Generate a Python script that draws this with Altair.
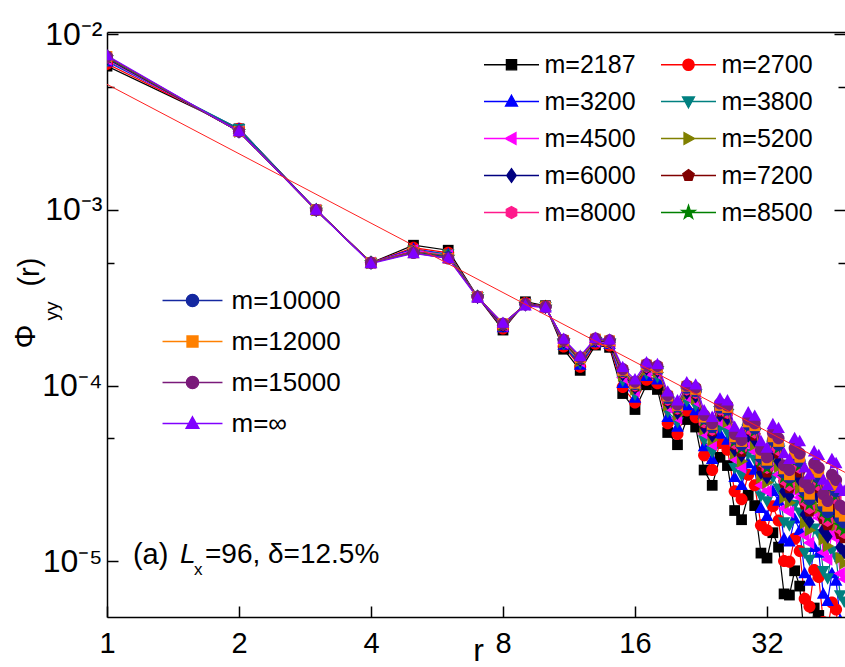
import altair as alt
import pandas as pd

# ---------------- data ----------------
r_values = list(range(1, 49))

phi_2187 = [6.6e-3, 2.9e-3, 1.0e-3, 5.0e-4, 6.3e-4, 5.9e-4, 3.2e-4, 2.07e-4, 3.0e-4, 2.85e-4, 1.61e-4, 1.22e-4, 1.70e-4, 1.65e-4, 9.0e-5, 7.3e-5, 1.01e-4, 9.5e-5, 5.4e-5, 4.6e-5, 6.4e-5, 5.8e-5, 3.3e-5, 2.7e-5, 3.9e-5, 3.5e-5, 1.94e-5, 1.72e-5, 2.37e-5, 2.07e-5, 1.11e-5, 1.04e-5, 1.45e-5, 1.2e-5, 6.5e-6, 6.4e-6, 8.8e-6, 7.2e-6, 3.5e-6, 3.2e-6, 5.4e-6, 4.9e-6, 2.5e-6, 2.2e-6, 3.2e-6, 2.9e-6, 1.5e-6, 1.3e-6]
phi_2700 = [6.8e-3, 2.9e-3, 1.0e-3, 5.0e-4, 6.1e-4, 5.7e-4, 3.2e-4, 2.11e-4, 2.95e-4, 2.83e-4, 1.67e-4, 1.28e-4, 1.73e-4, 1.69e-4, 9.8e-5, 8.0e-5, 1.08e-4, 1.03e-4, 6.1e-5, 5.3e-5, 7.2e-5, 6.6e-5, 4.0e-5, 3.3e-5, 4.7e-5, 4.3e-5, 2.5e-5, 2.25e-5, 3.1e-5, 2.7e-5, 1.6e-5, 1.5e-5, 2.05e-5, 1.7e-5, 1.0e-5, 9.9e-6, 1.34e-5, 1.14e-5, 6.1e-6, 5.5e-6, 8.9e-6, 8.1e-6, 4.5e-6, 4.1e-6, 5.8e-6, 5.3e-6, 3.0e-6, 2.7e-6]
phi_3200 = [7.0e-3, 2.9e-3, 1.0e-3, 5.0e-4, 6.0e-4, 5.6e-4, 3.2e-4, 2.14e-4, 2.93e-4, 2.82e-4, 1.70e-4, 1.31e-4, 1.76e-4, 1.72e-4, 1.03e-4, 8.5e-5, 1.13e-4, 1.08e-4, 6.6e-5, 5.8e-5, 7.7e-5, 7.2e-5, 4.5e-5, 3.8e-5, 5.3e-5, 4.9e-5, 3.0e-5, 2.7e-5, 3.6e-5, 3.3e-5, 2.0e-5, 1.8e-5, 2.5e-5, 2.2e-5, 1.34e-5, 1.29e-5, 1.74e-5, 1.5e-5, 8.5e-6, 7.7e-6, 1.2e-5, 1.11e-5, 6.5e-6, 5.9e-6, 8.5e-6, 7.7e-6, 4.6e-6, 4.1e-6]
phi_3800 = [7.1e-3, 2.9e-3, 1.0e-3, 5.0e-4, 5.9e-4, 5.6e-4, 3.2e-4, 2.17e-4, 2.9e-4, 2.81e-4, 1.73e-4, 1.34e-4, 1.78e-4, 1.74e-4, 1.07e-4, 8.9e-5, 1.17e-4, 1.12e-4, 7.1e-5, 6.2e-5, 8.2e-5, 7.7e-5, 4.9e-5, 4.2e-5, 5.8e-5, 5.4e-5, 3.4e-5, 3.1e-5, 4.1e-5, 3.8e-5, 2.35e-5, 2.2e-5, 3.0e-5, 2.6e-5, 1.67e-5, 1.6e-5, 2.1e-5, 1.9e-5, 1.12e-5, 1.02e-5, 1.54e-5, 1.43e-5, 8.8e-6, 8.0e-6, 1.14e-5, 1.05e-5, 6.4e-6, 5.9e-6]
phi_4500 = [7.2e-3, 2.8e-3, 1.0e-3, 5.0e-4, 5.9e-4, 5.5e-4, 3.2e-4, 2.19e-4, 2.9e-4, 2.8e-4, 1.75e-4, 1.37e-4, 1.79e-4, 1.75e-4, 1.11e-4, 9.3e-5, 1.20e-4, 1.16e-4, 7.5e-5, 6.5e-5, 8.6e-5, 8.1e-5, 5.3e-5, 4.6e-5, 6.2e-5, 5.9e-5, 3.8e-5, 3.4e-5, 4.6e-5, 4.2e-5, 2.7e-5, 2.5e-5, 3.45e-5, 3.1e-5, 2.0e-5, 1.9e-5, 2.5e-5, 2.3e-5, 1.4e-5, 1.27e-5, 1.9e-5, 1.76e-5, 1.12e-5, 1.02e-5, 1.45e-5, 1.35e-5, 8.5e-6, 7.9e-6]
phi_5200 = [7.3e-3, 2.8e-3, 1.0e-3, 5.0e-4, 5.8e-4, 5.5e-4, 3.2e-4, 2.2e-4, 2.9e-4, 2.8e-4, 1.76e-4, 1.38e-4, 1.81e-4, 1.76e-4, 1.14e-4, 9.5e-5, 1.23e-4, 1.19e-4, 7.7e-5, 6.8e-5, 8.9e-5, 8.4e-5, 5.6e-5, 4.9e-5, 6.6e-5, 6.2e-5, 4.1e-5, 3.7e-5, 5.0e-5, 4.6e-5, 3.0e-5, 2.8e-5, 3.8e-5, 3.45e-5, 2.3e-5, 2.15e-5, 2.9e-5, 2.6e-5, 1.65e-5, 1.5e-5, 2.2e-5, 2.0e-5, 1.33e-5, 1.22e-5, 1.73e-5, 1.6e-5, 1.04e-5, 9.7e-6]
phi_6000 = [7.3e-3, 2.8e-3, 1.0e-3, 5.0e-4, 5.8e-4, 5.4e-4, 3.2e-4, 2.2e-4, 2.9e-4, 2.8e-4, 1.78e-4, 1.40e-4, 1.81e-4, 1.77e-4, 1.16e-4, 9.7e-5, 1.25e-4, 1.21e-4, 8.0e-5, 7.0e-5, 9.1e-5, 8.7e-5, 5.8e-5, 5.2e-5, 6.8e-5, 6.5e-5, 4.3e-5, 4.0e-5, 5.2e-5, 4.9e-5, 3.2e-5, 3.0e-5, 4.1e-5, 3.7e-5, 2.5e-5, 2.35e-5, 3.1e-5, 2.9e-5, 1.84e-5, 1.68e-5, 2.4e-5, 2.3e-5, 1.5e-5, 1.38e-5, 1.95e-5, 1.82e-5, 1.2e-5, 1.13e-5]
phi_7200 = [7.4e-3, 2.8e-3, 1.0e-3, 5.0e-4, 5.8e-4, 5.4e-4, 3.2e-4, 2.2e-4, 2.9e-4, 2.8e-4, 1.79e-4, 1.41e-4, 1.82e-4, 1.78e-4, 1.18e-4, 9.9e-5, 1.27e-4, 1.23e-4, 8.2e-5, 7.3e-5, 9.4e-5, 9.0e-5, 6.1e-5, 5.5e-5, 7.1e-5, 6.9e-5, 4.6e-5, 4.2e-5, 5.6e-5, 5.2e-5, 3.5e-5, 3.2e-5, 4.5e-5, 4.1e-5, 2.8e-5, 2.6e-5, 3.5e-5, 3.2e-5, 2.1e-5, 1.92e-5, 2.7e-5, 2.6e-5, 1.74e-5, 1.6e-5, 2.3e-5, 2.1e-5, 1.43e-5, 1.35e-5]
phi_8000 = [7.4e-3, 2.8e-3, 1.0e-3, 5.0e-4, 5.8e-4, 5.4e-4, 3.2e-4, 2.23e-4, 2.9e-4, 2.8e-4, 1.80e-4, 1.42e-4, 1.83e-4, 1.79e-4, 1.19e-4, 1.00e-4, 1.28e-4, 1.24e-4, 8.3e-5, 7.4e-5, 9.5e-5, 9.1e-5, 6.2e-5, 5.6e-5, 7.3e-5, 7.0e-5, 4.7e-5, 4.4e-5, 5.7e-5, 5.4e-5, 3.7e-5, 3.4e-5, 4.6e-5, 4.3e-5, 2.9e-5, 2.7e-5, 3.6e-5, 3.4e-5, 2.2e-5, 2.0e-5, 2.9e-5, 2.7e-5, 1.85e-5, 1.7e-5, 2.4e-5, 2.26e-5, 1.53e-5, 1.45e-5]
phi_8500 = [7.4e-3, 2.8e-3, 1.0e-3, 5.0e-4, 5.75e-4, 5.4e-4, 3.2e-4, 2.23e-4, 2.9e-4, 2.8e-4, 1.80e-4, 1.42e-4, 1.83e-4, 1.79e-4, 1.20e-4, 1.01e-4, 1.28e-4, 1.25e-4, 8.4e-5, 7.4e-5, 9.6e-5, 9.2e-5, 6.3e-5, 5.7e-5, 7.4e-5, 7.1e-5, 4.8e-5, 4.4e-5, 5.8e-5, 5.5e-5, 3.7e-5, 3.4e-5, 4.7e-5, 4.4e-5, 3.0e-5, 2.8e-5, 3.7e-5, 3.5e-5, 2.3e-5, 2.1e-5, 3.0e-5, 2.8e-5, 1.9e-5, 1.77e-5, 2.5e-5, 2.35e-5, 1.6e-5, 1.5e-5]
phi_10000 = [7.5e-3, 2.8e-3, 1.0e-3, 5.0e-4, 5.7e-4, 5.4e-4, 3.2e-4, 2.24e-4, 2.9e-4, 2.8e-4, 1.81e-4, 1.43e-4, 1.84e-4, 1.80e-4, 1.21e-4, 1.02e-4, 1.30e-4, 1.26e-4, 8.5e-5, 7.6e-5, 9.7e-5, 9.3e-5, 6.5e-5, 5.8e-5, 7.5e-5, 7.3e-5, 5.0e-5, 4.6e-5, 6.0e-5, 5.7e-5, 3.9e-5, 3.6e-5, 4.9e-5, 4.6e-5, 3.2e-5, 3.0e-5, 3.9e-5, 3.7e-5, 2.5e-5, 2.25e-5, 3.15e-5, 3.0e-5, 2.06e-5, 1.9e-5, 2.7e-5, 2.5e-5, 1.74e-5, 1.66e-5]
phi_12000 = [7.5e-3, 2.8e-3, 1.0e-3, 5.0e-4, 5.7e-4, 5.3e-4, 3.2e-4, 2.25e-4, 2.9e-4, 2.8e-4, 1.81e-4, 1.44e-4, 1.84e-4, 1.80e-4, 1.22e-4, 1.03e-4, 1.31e-4, 1.27e-4, 8.7e-5, 7.7e-5, 9.9e-5, 9.5e-5, 6.6e-5, 6.0e-5, 7.7e-5, 7.5e-5, 5.1e-5, 4.8e-5, 6.2e-5, 5.9e-5, 4.1e-5, 3.75e-5, 5.1e-5, 4.8e-5, 3.35e-5, 3.1e-5, 4.1e-5, 3.9e-5, 2.65e-5, 2.4e-5, 3.35e-5, 3.2e-5, 2.2e-5, 2.05e-5, 2.9e-5, 2.7e-5, 1.9e-5, 1.8e-5]
phi_15000 = [7.5e-3, 2.8e-3, 1.0e-3, 5.0e-4, 5.7e-4, 5.3e-4, 3.2e-4, 2.25e-4, 2.9e-4, 2.8e-4, 1.82e-4, 1.45e-4, 1.85e-4, 1.81e-4, 1.24e-4, 1.05e-4, 1.32e-4, 1.29e-4, 8.8e-5, 7.8e-5, 1.0e-4, 9.7e-5, 6.8e-5, 6.1e-5, 7.9e-5, 7.7e-5, 5.3e-5, 4.9e-5, 6.4e-5, 6.1e-5, 4.3e-5, 3.9e-5, 5.4e-5, 5.0e-5, 3.5e-5, 3.3e-5, 4.4e-5, 4.1e-5, 2.8e-5, 2.6e-5, 3.6e-5, 3.4e-5, 2.4e-5, 2.2e-5, 3.1e-5, 2.9e-5, 2.07e-5, 1.98e-5]
phi_inf = [7.6e-3, 2.8e-3, 1.0e-3, 4.95e-4, 5.65e-4, 5.3e-4, 3.15e-4, 2.27e-4, 2.85e-4, 2.77e-4, 1.84e-4, 1.47e-4, 1.86e-4, 1.82e-4, 1.27e-4, 1.08e-4, 1.35e-4, 1.32e-4, 9.2e-5, 8.2e-5, 1.04e-4, 1.01e-4, 7.2e-5, 6.6e-5, 8.4e-5, 8.2e-5, 5.8e-5, 5.4e-5, 7.0e-5, 6.7e-5, 4.8e-5, 4.4e-5, 6.0e-5, 5.7e-5, 4.1e-5, 3.8e-5, 5.0e-5, 4.8e-5, 3.4e-5, 3.1e-5, 4.2e-5, 4.0e-5, 2.9e-5, 2.7e-5, 3.8e-5, 3.6e-5, 2.6e-5, 2.5e-5]

series_a = ["m=2187", "m=2700", "m=3200", "m=3800", "m=4500",
            "m=5200", "m=6000", "m=7200", "m=8000", "m=8500"]
series_b = ["m=10000", "m=12000", "m=15000", "m=\u221e"]
values_a = [phi_2187, phi_2700, phi_3200, phi_3800, phi_4500,
            phi_5200, phi_6000, phi_7200, phi_8000, phi_8500]
values_b = [phi_10000, phi_12000, phi_15000, phi_inf]

colors_a = ["#000000", "#FF0000", "#0000FF", "#008080", "#FF00FF",
            "#808000", "#000080", "#800000", "#FF1A8C", "#008000"]
colors_b = ["#1428A0", "#FF8000", "#7A1A7A", "#8000FF"]

markers_a = ["square", "circle", "tri-up", "tri-down", "tri-left",
             "tri-right", "diamond", "pentagon", "hexagon", "star"]
markers_b = ["circle", "square", "circle", "tri-up"]

# legend A is read row by row in the figure (two entries per row)
legend_a_order = [0, 2, 4, 6, 8, 1, 3, 5, 7, 9]

# fitted power law (two end points)
fit_r = [1, 48.2]
fit_phi = [5.2e-3, 3.2e-5]

x_ticks = [1, 2, 4, 8, 16, 32]
y_major = [1e-2, 1e-3, 1e-4, 1e-5]
y_major_text = ["10\u207b\u00b2", "10\u207b\u00b3", "10\u207b\u2074", "10\u207b\u2075"]
y_minor = [5e-3, 5e-4, 5e-5]

# ---------------- marker paths ----------------
POLY = {
    "square": [(-0.85, -0.85), (0.85, -0.85), (0.85, 0.85), (-0.85, 0.85)],
    "tri-up": [(0, -1.05), (1.0, 0.75), (-1.0, 0.75)],
    "tri-down": [(0, 1.05), (1.0, -0.75), (-1.0, -0.75)],
    "tri-left": [(-1.05, 0), (0.75, -1.0), (0.75, 1.0)],
    "tri-right": [(1.05, 0), (-0.75, -1.0), (-0.75, 1.0)],
    "diamond": [(0, -1.15), (0.8, 0), (0, 1.15), (-0.8, 0)],
    "pentagon": [(0, -1.0), (0.951, -0.309), (0.588, 0.809), (-0.588, 0.809), (-0.951, -0.309)],
    "hexagon": [(0, -1.0), (0.866, -0.5), (0.866, 0.5), (0, 1.0), (-0.866, 0.5), (-0.866, -0.5)],
    "star": [(0, -1.2), (0.27, -0.37), (1.14, -0.37), (0.44, 0.14), (0.7, 0.97),
             (0, 0.46), (-0.7, 0.97), (-0.44, 0.14), (-1.14, -0.37), (-0.27, -0.37)],
}


def marker_path(name, k):
    if name == "circle":
        c = 0.95 * k
        return f"M{c:.3f},0A{c:.3f},{c:.3f} 0 1,1 {-c:.3f},0A{c:.3f},{c:.3f} 0 1,1 {c:.3f},0Z"
    pts = POLY[name]
    return "M" + "L".join(f"{x * k:.3f},{y * k:.3f}" for x, y in pts) + "Z"


def legend_path(name, half_line, k):
    return f"M{-half_line},0H{half_line}" + marker_path(name, k)


def table(names, vals):
    rows = []
    for n, vs in zip(names, vals):
        for r, v in zip(r_values, vs):
            rows.append({"series": n, "r": r, "phi": v})
    return pd.DataFrame(rows)


df_a = table(series_a, values_a)
df_b = table(series_b, values_b)
df_fit = pd.DataFrame({"r": fit_r, "phi": fit_phi})

FONT = "Liberation Sans"
xscale = alt.Scale(type="log", base=2, domain=[1, 48.2], nice=False)
yscale = alt.Scale(type="log", domain=[4.8e-6, 0.01033], nice=False)
color_scale = alt.Scale(domain=series_a + series_b, range=colors_a + colors_b)


def tick_axis(orient, values, size):
    return alt.Axis(orient=orient, values=values, offset=-size, tickSize=size,
                    ticks=True, tickColor="black", tickWidth=1.5, labels=False,
                    domain=False, grid=False, title=None)


label_expr = " : ".join(
    f"datum.value > {v * 0.5} ? '{t}'" for v, t in zip(y_major[:-1], y_major_text[:-1])
) + f" : '{y_major_text[-1]}'"

x_main_axis = alt.Axis(orient="bottom", values=x_ticks, labelFont=FONT, labelFontSize=29,
                       labelColor="black", labelPadding=12, labelFlush=False,
                       labelOverlap=False, ticks=False, domain=True, domainColor="black",
                       domainWidth=1.5, grid=False, title="r", titleFont=FONT,
                       titleFontSize=32, titleFontWeight="normal", titleColor="black",
                       titleX=371, titleY=43, titleBaseline="alphabetic", format="d")
y_main_axis = alt.Axis(orient="left", values=y_major, labelExpr=label_expr, labelFont=FONT,
                       labelFontSize=32, labelColor="black", labelPadding=5,
                       labelFlush=False, labelOverlap=False, labelBaseline="middle",
                       ticks=False, domain=True, domainColor="black", domainWidth=1.5,
                       grid=False, title=None)
x_top_axis = alt.Axis(orient="top", values=x_ticks, ticks=False, labels=False, domain=True,
                      domainColor="black", domainWidth=1.5, grid=False, title=None)

# ---------------- layers ----------------
POINT_SIZE = 160
line_a = alt.Chart(df_a).mark_line(strokeWidth=1.2, clip=True).encode(
    x=alt.X("r:Q", scale=xscale, axis=tick_axis("bottom", x_ticks, 11)),
    y=alt.Y("phi:Q", scale=yscale, axis=tick_axis("left", y_major, 11)),
    color=alt.Color("series:N", scale=color_scale, legend=None),
)
pts_a = alt.Chart(df_a).mark_point(filled=True, size=POINT_SIZE, opacity=1, clip=True).encode(
    x=alt.X("r:Q", scale=xscale, axis=x_top_axis),
    y=alt.Y("phi:Q", scale=yscale, axis=tick_axis("left", y_minor, 7)),
    color=alt.Color("series:N", scale=color_scale, legend=None),
    shape=alt.Shape("series:N", scale=alt.Scale(domain=series_a,
                    range=[marker_path(m, 1) for m in markers_a]), legend=None),
)
line_b = alt.Chart(df_b).mark_line(strokeWidth=1.2, clip=True).encode(
    x=alt.X("r:Q", scale=xscale, axis=None),
    y=alt.Y("phi:Q", scale=yscale, axis=tick_axis("right", y_major, 11)),
    color=alt.Color("series:N", scale=color_scale, legend=None),
)
pts_b = alt.Chart(df_b).mark_point(filled=True, size=POINT_SIZE, opacity=1, clip=True).encode(
    x=alt.X("r:Q", scale=xscale, axis=None),
    y=alt.Y("phi:Q", scale=yscale, axis=tick_axis("right", y_minor, 7)),
    color=alt.Color("series:N", scale=color_scale, legend=None),
    shape=alt.Shape("series:N", scale=alt.Scale(domain=series_b,
                    range=[marker_path(m, 1) for m in markers_b]), legend=None),
)
fit = alt.Chart(df_fit).mark_line(color="#FF2020", strokeWidth=1, clip=True).encode(
    x=alt.X("r:Q", scale=xscale, axis=x_main_axis),
    y=alt.Y("phi:Q", scale=yscale, axis=y_main_axis),
)


def legend_layer(names, colors, markers, lx, ly, size, half_line, k, offset, rowpad,
                 colpad, fontsize, columns):
    lg = alt.Legend(orient="none", legendX=lx, legendY=ly, columns=columns, title=None,
                    labelFont=FONT, labelFontSize=fontsize, labelColor="black",
                    symbolSize=size, symbolStrokeWidth=1.3, labelOffset=offset,
                    rowPadding=rowpad, columnPadding=colpad, padding=0)
    paths = [legend_path(m, half_line, k) for m in markers]
    return alt.Chart(pd.DataFrame({"series": names})).mark_point(
        size=size, opacity=1, strokeWidth=1.3).encode(
        fill=alt.Fill("series:N", scale=alt.Scale(domain=names, range=colors), legend=lg),
        stroke=alt.Stroke("series:N", scale=alt.Scale(domain=names, range=colors), legend=lg),
        shape=alt.Shape("series:N", scale=alt.Scale(domain=names, range=paths), legend=lg),
    ).transform_filter("false")


leg_a = legend_layer([series_a[i] for i in legend_a_order],
                     [colors_a[i] for i in legend_a_order],
                     [markers_a[i] for i in legend_a_order],
                     391, 19, 625, 2.2, 0.48, 19.5, 10, 22, 25, 2)
leg_b = legend_layer(series_b, colors_b, markers_b,
                     71, 254, 729, 2.22, 0.48, 24.5, 13, 24, 26, 1)

# annotation and y title (placed in data coordinates)
ann_df = pd.DataFrame({"r": [1.146], "phi": [1.08e-5]})


def ann(text, dx, dy=0, size=28, style="normal"):
    return alt.Chart(ann_df).mark_text(text=text, align="left", baseline="middle",
                                       dx=dx, dy=dy, font=FONT, fontSize=size,
                                       fontStyle=style, color="black").encode(
        x=alt.X("r:Q", scale=xscale, axis=None), y=alt.Y("phi:Q", scale=yscale, axis=None))


ytitle_r = [0.654, 0.75, 0.667]
ytitle_phi = [1.9e-4, 2.66e-4, 4.43e-4]
ytitle_text = ["\u03a6", "yy", "(r)"]
ytitle_size = [30, 19, 29]


def ytitle(i):
    d = pd.DataFrame({"r": [ytitle_r[i]], "phi": [ytitle_phi[i]]})
    return alt.Chart(d).mark_text(text=ytitle_text[i], angle=270, align="center",
                                  baseline="middle", font=FONT, fontSize=ytitle_size[i],
                                  color="black").encode(
        x=alt.X("r:Q", scale=xscale, axis=None), y=alt.Y("phi:Q", scale=yscale, axis=None))


chart = alt.layer(
    line_a, pts_a, line_b, pts_b, fit, leg_a, leg_b,
    ann("(a)", 0, size=29), ann("L", 47, style="italic"), ann("x", 61, dy=15, size=17),
    ann("=96, \u03b4=12.5%", 72),
    ytitle(0), ytitle(1), ytitle(2),
).resolve_scale(
    shape="independent", fill="independent", stroke="independent"
).resolve_axis(
    x="independent", y="independent"
).properties(
    width=738, height=585,
    padding={"left": 107, "top": 32, "right": 0, "bottom": 50},
    autosize=alt.AutoSizeParams(type="none"),
    background="white",
).configure_view(strokeWidth=0)

chart.save("out.html", embed_options={"renderer": "svg", "actions": False})
